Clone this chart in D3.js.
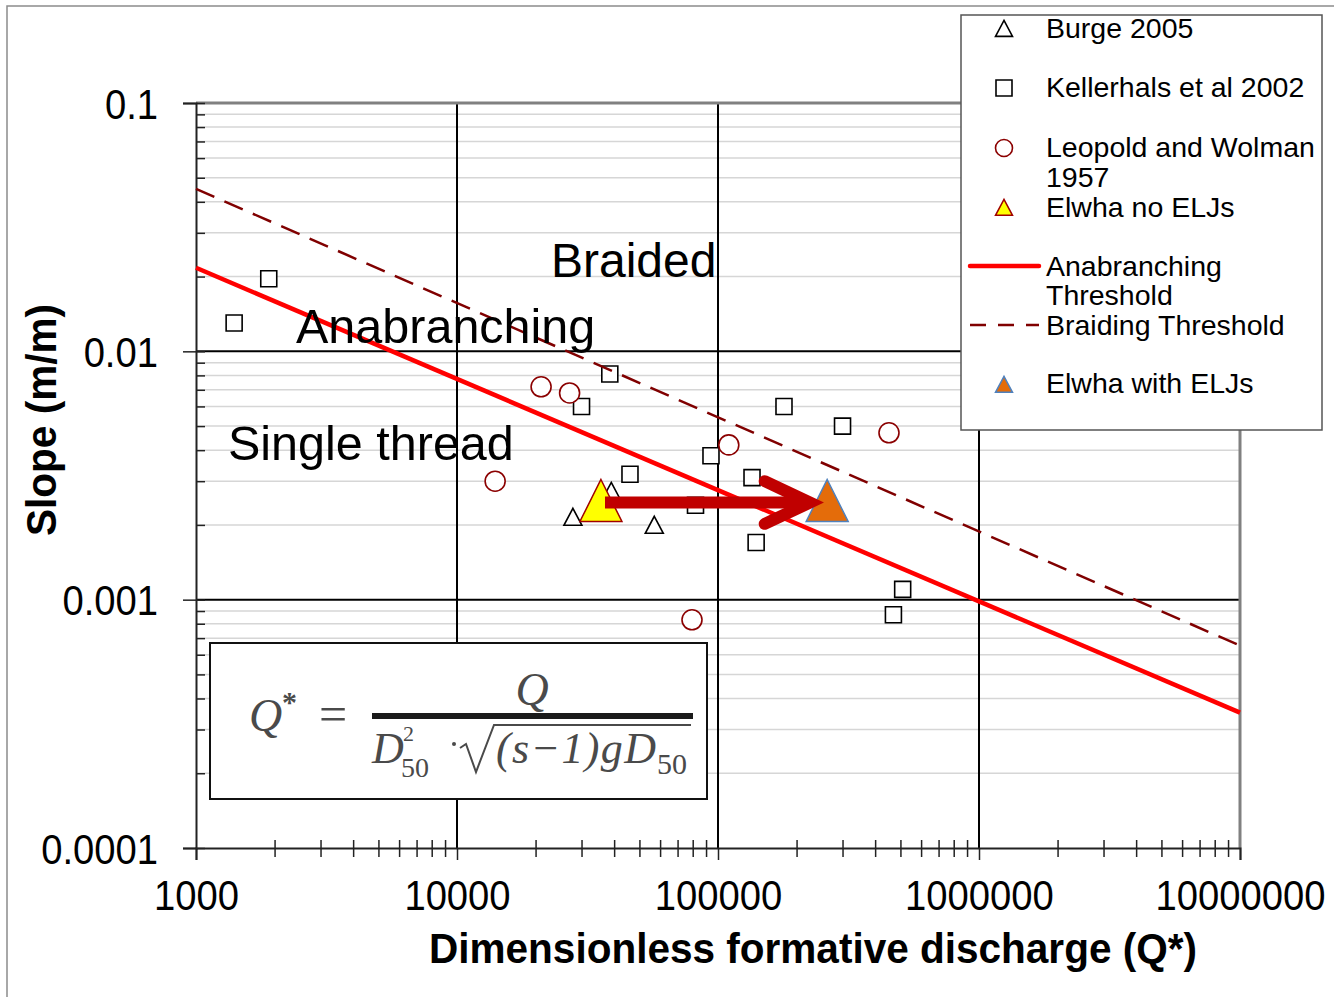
<!DOCTYPE html>
<html>
<head>
<meta charset="utf-8">
<script src="https://cdn.jsdelivr.net/npm/d3@7"></script>
<style>
  body { margin: 0; background: #fff; }
  svg { display: block; font-family: "Liberation Sans", Arial, sans-serif; }
</style>
</head>
<body>
<div id="chart"></div>
<script>
// values, [Q*, slope]
var burge = [[27800, 0.0021], [57000, 0.00195], [39000, 0.00267]];
var kellerhals = [[1400, 0.013], [1900, 0.0196], [38500, 0.0081], [30000, 0.006], [46000, 0.0032],
  [94000, 0.0038], [82000, 0.0024], [135000, 0.0031], [140000, 0.0017], [179000, 0.006],
  [300000, 0.005], [510000, 0.0011], [470000, 0.00087]];
var leopold = [[21000, 0.0072], [27000, 0.0068], [14000, 0.003], [110000, 0.0042], [452000, 0.0047], [79500, 0.00083]];
var elwhaNoElj = [[35600, 0.00235]];
var elwhaElj = [[262000, 0.00235]];
var anabranching = [[1000, 0.0217], [1e7, 0.000351]];
var braiding = [[1000, 0.0451], [1e7, 0.000653]];
var arrowShaft = [[36900, 0.00246], [225000, 0.00246]];
var arrowHead = [[151000, 0.0030], [225000, 0.00246], [151000, 0.00202]];
var xTicks = [1e3, 1e4, 1e5, 1e6, 1e7];
var yTicks = [1e-4, 1e-3, 1e-2, 1e-1];
var legendLabels = ["Burge 2005", "Kellerhals et al 2002", "Leopold and Wolman", "Elwha no ELJs",
  "Anabranching", "Braiding Threshold", "Elwha with ELJs"];

var width = 1334, height = 997;
var svg = d3.select("#chart").append("svg")
  .attr("width", width)
  .attr("height", height);

var x = d3.scaleLog().domain([1e3, 1e7]).range([196, 1240]);
var y = d3.scaleLog().domain([1e-4, 1e-1]).range([848, 103]);

function isDecade(d) {
  var l = Math.log10(d);
  return Math.abs(l - Math.round(l)) < 1e-9;
}
var minorX = x.ticks().filter(d => !isDecade(d));
var minorY = y.ticks().filter(d => !isDecade(d));

// triangle with centroid at 0,0
function tri(w, h) {
  return "M0," + (-2 * h / 3) + "L" + (w / 2) + "," + (h / 3) + "L" + (-w / 2) + "," + (h / 3) + "Z";
}

// outer frame
svg.append("rect")
  .attr("x", 7).attr("y", 6)
  .attr("width", width).attr("height", height)
  .attr("fill", "none")
  .attr("stroke", "#8c8c8c")
  .attr("stroke-width", 1.5);

// gridlines
svg.append("g").selectAll("line")
  .data(minorY)
  .join("line")
    .attr("x1", x(1e3)).attr("x2", x(1e7))
    .attr("y1", d => y(d)).attr("y2", d => y(d))
    .attr("stroke", "#d6d6d6")
    .attr("stroke-width", 1.5);

svg.append("g").selectAll("line")
  .data([1e-3, 1e-2])
  .join("line")
    .attr("x1", x(1e3)).attr("x2", x(1e7))
    .attr("y1", d => y(d)).attr("y2", d => y(d))
    .attr("stroke", "#000")
    .attr("stroke-width", 2);

svg.append("g").selectAll("line")
  .data([1e4, 1e5, 1e6])
  .join("line")
    .attr("x1", d => x(d)).attr("x2", d => x(d))
    .attr("y1", y(1e-1)).attr("y2", y(1e-4))
    .attr("stroke", "#000")
    .attr("stroke-width", 2);

// grey top and right border of plot
svg.append("line")
  .attr("x1", x(1e3)).attr("x2", x(1e7))
  .attr("y1", y(1e-1)).attr("y2", y(1e-1))
  .attr("stroke", "#808080").attr("stroke-width", 3);
svg.append("line")
  .attr("x1", x(1e7)).attr("x2", x(1e7))
  .attr("y1", y(1e-1)).attr("y2", y(1e-4))
  .attr("stroke", "#808080").attr("stroke-width", 3);

// axes
var xMinor = svg.append("g")
  .attr("transform", `translate(0,${y(1e-4) - 8})`)
  .call(d3.axisBottom(x).tickValues(minorX).tickSize(17).tickFormat(""));
xMinor.select(".domain").remove();

var xAxis = svg.append("g")
  .attr("transform", `translate(0,${y(1e-4)})`)
  .call(d3.axisBottom(x).tickValues(xTicks).tickSize(12).tickPadding(20).tickFormat(d => String(d)));

var yInner = svg.append("g")
  .attr("transform", `translate(${x(1e3)},0)`)
  .call(d3.axisRight(y).tickValues(y.ticks()).tickSize(9).tickFormat(""));
yInner.select(".domain").remove();

var yAxis = svg.append("g")
  .attr("transform", `translate(${x(1e3)},0)`)
  .call(d3.axisLeft(y).tickValues(yTicks).tickSize(13).tickFormat(d => String(d)));

svg.selectAll(".tick line").attr("stroke", "#222").attr("stroke-width", 1.5);
svg.selectAll(".domain").attr("stroke", "#222").attr("stroke-width", 2);

xAxis.selectAll("text")
  .attr("font-size", 42)
  .attr("fill", "#000")
  .attr("font-family", "Liberation Sans, Arial, sans-serif")
  .attr("transform", "scale(0.91,1)");

yAxis.selectAll("text")
  .attr("font-size", 42)
  .attr("fill", "#000")
  .attr("font-family", "Liberation Sans, Arial, sans-serif")
  .attr("x", -38 / 0.91)
  .attr("dy", "0.36em")
  .attr("transform", "scale(0.91,1)");

// axis titles
svg.append("text")
  .attr("transform", "translate(813,963) scale(0.965,1)")
  .attr("text-anchor", "middle")
  .attr("font-size", 42)
  .attr("font-weight", "bold")
  .text("Dimensionless formative discharge (Q*)");

svg.append("text")
  .attr("transform", "translate(56,420) rotate(-90) scale(0.965,1)")
  .attr("text-anchor", "middle")
  .attr("font-size", 42)
  .attr("font-weight", "bold")
  .text("Slope (m/m)");

// data points
svg.append("g").selectAll("path")
  .data(kellerhals)
  .join("path")
    .attr("transform", d => `translate(${x(d[0])},${y(d[1])})`)
    .attr("d", d3.symbol(d3.symbolSquare, 256))
    .attr("fill", "#fff")
    .attr("stroke", "#000")
    .attr("stroke-width", 1.6);

svg.append("g").selectAll("circle")
  .data(leopold)
  .join("circle")
    .attr("cx", d => x(d[0]))
    .attr("cy", d => y(d[1]))
    .attr("r", 10)
    .attr("fill", "#fff")
    .attr("stroke", "#8b0000")
    .attr("stroke-width", 1.6);

svg.append("g").selectAll("path")
  .data(burge)
  .join("path")
    .attr("transform", d => `translate(${x(d[0])},${y(d[1])})`)
    .attr("d", tri(18, 17))
    .attr("fill", "#fff")
    .attr("stroke", "#000")
    .attr("stroke-width", 1.6);

// threshold lines
var line = d3.line().x(d => x(d[0])).y(d => y(d[1]));

svg.append("path")
  .datum(braiding)
  .attr("d", line)
  .attr("fill", "none")
  .attr("stroke", "#800000")
  .attr("stroke-width", 2.5)
  .attr("stroke-dasharray", "20,11");

svg.append("path")
  .datum(anabranching)
  .attr("d", line)
  .attr("fill", "none")
  .attr("stroke", "#ff0000")
  .attr("stroke-width", 4.5);

// Elwha
svg.append("g").selectAll("path")
  .data(elwhaNoElj)
  .join("path")
    .attr("transform", d => `translate(${x(d[0])},${y(d[1])})`)
    .attr("d", tri(42, 42))
    .attr("fill", "#ffff00")
    .attr("stroke", "#a00000")
    .attr("stroke-width", 1.5);

svg.append("g").selectAll("path")
  .data(elwhaElj)
  .join("path")
    .attr("transform", d => `translate(${x(d[0])},${y(d[1])})`)
    .attr("d", tri(42, 42))
    .attr("fill", "#e46c0a")
    .attr("stroke", "#4f81bd")
    .attr("stroke-width", 1.5);

// arrow
svg.append("path")
  .datum(arrowShaft)
  .attr("d", line)
  .attr("fill", "none")
  .attr("stroke", "#c00000")
  .attr("stroke-width", 12);

svg.append("path")
  .datum(arrowHead)
  .attr("d", line)
  .attr("fill", "none")
  .attr("stroke", "#c00000")
  .attr("stroke-width", 12)
  .attr("stroke-linecap", "round")
  .attr("stroke-linejoin", "miter");

// region labels
svg.append("text").attr("x", 551).attr("y", 277).attr("font-size", 48).text("Braided");
svg.append("text").attr("x", 296).attr("y", 343).attr("font-size", 48.5).text("Anabranching");
svg.append("text").attr("x", 228).attr("y", 460).attr("font-size", 48.5).text("Single thread");

// formula box
var fm = svg.append("g")
  .attr("font-family", "Liberation Serif, Times New Roman, serif")
  .attr("fill", "#4a4a4a");
fm.append("rect")
  .attr("x", 210).attr("y", 643)
  .attr("width", 497).attr("height", 156)
  .attr("fill", "#fff")
  .attr("stroke", "#111")
  .attr("stroke-width", 2);
fm.append("text").attr("x", 249).attr("y", 731).attr("font-size", 46).attr("font-style", "italic").text("Q");
fm.append("text").attr("x", 282).attr("y", 712).attr("font-size", 30).attr("font-weight", "bold").text("*");
fm.append("text").attr("x", 333).attr("y", 731).attr("font-size", 50).attr("text-anchor", "middle").text("=");
fm.append("rect").attr("x", 372).attr("y", 713).attr("width", 321).attr("height", 6).attr("fill", "#1a1a1a");
fm.append("text").attr("x", 532).attr("y", 705).attr("font-size", 46).attr("font-style", "italic").attr("text-anchor", "middle").text("Q");
fm.append("text").attr("x", 372).attr("y", 763).attr("font-size", 44).attr("font-style", "italic").text("D");
fm.append("text").attr("x", 403).attr("y", 741).attr("font-size", 22).text("2");
fm.append("text").attr("x", 401).attr("y", 777).attr("font-size", 28).text("50");
fm.append("circle").attr("cx", 454).attr("cy", 744).attr("r", 2);
fm.append("path")
  .attr("d", "M460,748 L466,744 L476,772 L494,725 L691,725")
  .attr("fill", "none")
  .attr("stroke", "#4a4a4a")
  .attr("stroke-width", 2);
fm.append("text").attr("x", 496).attr("y", 763).attr("font-size", 44).attr("font-style", "italic")
  .attr("textLength", 160).text("(s\u22121)gD");
fm.append("text").attr("x", 657).attr("y", 774).attr("font-size", 30).text("50");

// legend
var lg = svg.append("g").attr("font-size", 28.5);
lg.append("rect")
  .attr("x", 961).attr("y", 15)
  .attr("width", 361).attr("height", 415)
  .attr("fill", "#fff")
  .attr("stroke", "#555")
  .attr("stroke-width", 1.5);

lg.append("path").attr("transform", "translate(1004,31)").attr("d", tri(17, 16))
  .attr("fill", "#fff").attr("stroke", "#000").attr("stroke-width", 1.6);
lg.append("path").attr("transform", "translate(1004,88)").attr("d", d3.symbol(d3.symbolSquare, 256))
  .attr("fill", "#fff").attr("stroke", "#000").attr("stroke-width", 1.6);
lg.append("circle").attr("cx", 1004).attr("cy", 148).attr("r", 8.5)
  .attr("fill", "#fff").attr("stroke", "#8b0000").attr("stroke-width", 1.6);
lg.append("path").attr("transform", "translate(1004,210)").attr("d", tri(17, 16))
  .attr("fill", "#ffff00").attr("stroke", "#a00000").attr("stroke-width", 1.5);
lg.append("line").attr("x1", 970).attr("x2", 1039).attr("y1", 266).attr("y2", 266)
  .attr("stroke", "#ff0000").attr("stroke-width", 4.5).attr("stroke-linecap", "round");
lg.append("line").attr("x1", 970).attr("x2", 1039).attr("y1", 325).attr("y2", 325)
  .attr("stroke", "#800000").attr("stroke-width", 2.5).attr("stroke-dasharray", "16,12");
lg.append("path").attr("transform", "translate(1004,387)").attr("d", tri(17, 16))
  .attr("fill", "#e46c0a").attr("stroke", "#4f81bd").attr("stroke-width", 1.5);

var legendY = [38, 97, 157, 217, 276, 335, 393];
lg.selectAll("text.lab")
  .data(legendLabels)
  .join("text")
    .attr("class", "lab")
    .attr("x", 1046)
    .attr("y", (d, i) => legendY[i])
    .text(d => d);
lg.append("text").attr("x", 1046).attr("y", 187).text("1957");
lg.append("text").attr("x", 1046).attr("y", 305).text("Threshold");
</script>
</body>
</html>
